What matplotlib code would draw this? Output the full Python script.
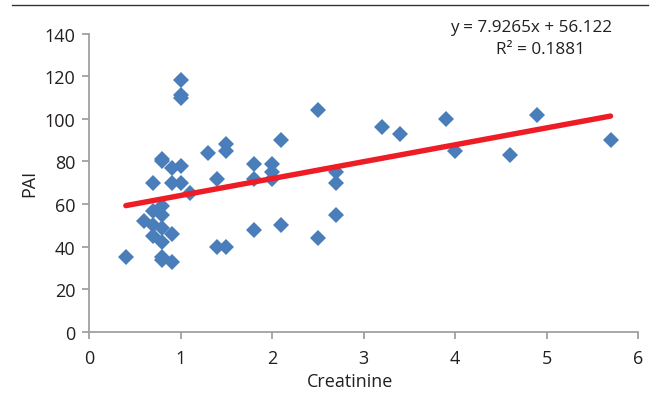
import matplotlib
matplotlib.use("Agg")
import matplotlib.pyplot as plt
from matplotlib.lines import Line2D
import numpy as np

# data
creatinine = [0.4, 0.6, 0.7, 0.7, 0.7, 0.7, 0.8, 0.8, 0.8, 0.8, 0.8, 0.8,
              0.9, 0.9, 0.8, 0.8, 0.9, 0.9, 1.0, 1.0, 1.0, 1.0, 1.0, 1.1,
              1.3, 1.4, 1.4, 1.5, 1.5, 1.5, 1.8, 1.8, 1.8, 2.0, 2.0, 2.0,
              2.1, 2.1, 2.5, 2.5, 2.7, 2.7, 2.7, 3.2, 3.4, 3.9, 4.0, 4.6,
              4.9, 5.7]
pai = [35, 52, 45, 50, 57, 70, 59, 55, 49, 42, 35, 34,
       33, 46, 81, 80, 77, 70, 78, 70, 110, 111, 118, 65,
       84, 72, 40, 88, 85, 40, 79, 72, 48, 79, 75, 72,
       90, 50, 104, 44, 75, 70, 55, 96, 93, 100, 85, 83,
       102, 90]

slope = 7.9265
intercept = 56.122
r2 = 0.1881

plt.rcParams['font.family'] = ['Open Sans', 'DejaVu Sans']
txt = '#231F20'

fig = plt.figure(figsize=(6.55, 4.06), dpi=100)
ax = fig.add_axes([0.1363, 0.1798, 0.8377, 0.735])

ax.plot(creatinine, pai, 'D', color='#4A7EBB', markersize=7.9,
        markeredgewidth=0, zorder=2)

# linear trendline over the data range
xl = np.array([min(creatinine), max(creatinine)])
ax.plot(xl, slope * xl + intercept, color='#EE1C25', linewidth=3.9,
        solid_capstyle='round', zorder=3)

ax.set_xlim(0, 6)
ax.set_ylim(0, 140)
ax.set_xticks(range(0, 7))
ax.set_yticks(range(0, 141, 20))

for s in ['top', 'right']:
    ax.spines[s].set_visible(False)
for s in ['left', 'bottom']:
    ax.spines[s].set_color('#A0A0A0')
    ax.spines[s].set_linewidth(1.3)
ax.tick_params(colors='#A0A0A0', labelcolor=txt, labelsize=13,
               length=5, width=1.3, direction='out')
ax.tick_params(axis='y', pad=5)
ax.tick_params(axis='x', pad=7)

ax.set_xlabel('Creatinine', fontsize=13, color=txt)
ax.set_ylabel('PAI', fontsize=13, color=txt)
ax.xaxis.set_label_coords(0.475, -0.135)
ax.yaxis.set_label_coords(-0.093, 0.5)

fig.text(531 / 655, 1 - 28 / 406, 'y = %.4fx + %.3f' % (slope, intercept),
         ha='center', va='center', fontsize=12.3, color=txt)
fig.text(540 / 655, 1 - 50 / 406, 'R² = %.4f' % r2,
         ha='center', va='center', fontsize=12.3, color=txt)

# thin rule across the top of the figure
fig.add_artist(Line2D([12 / 655, 648 / 655], [1 - 6 / 406, 1 - 6 / 406],
                      color='#333333', linewidth=1.0))

fig.savefig('out.png', dpi=100)
